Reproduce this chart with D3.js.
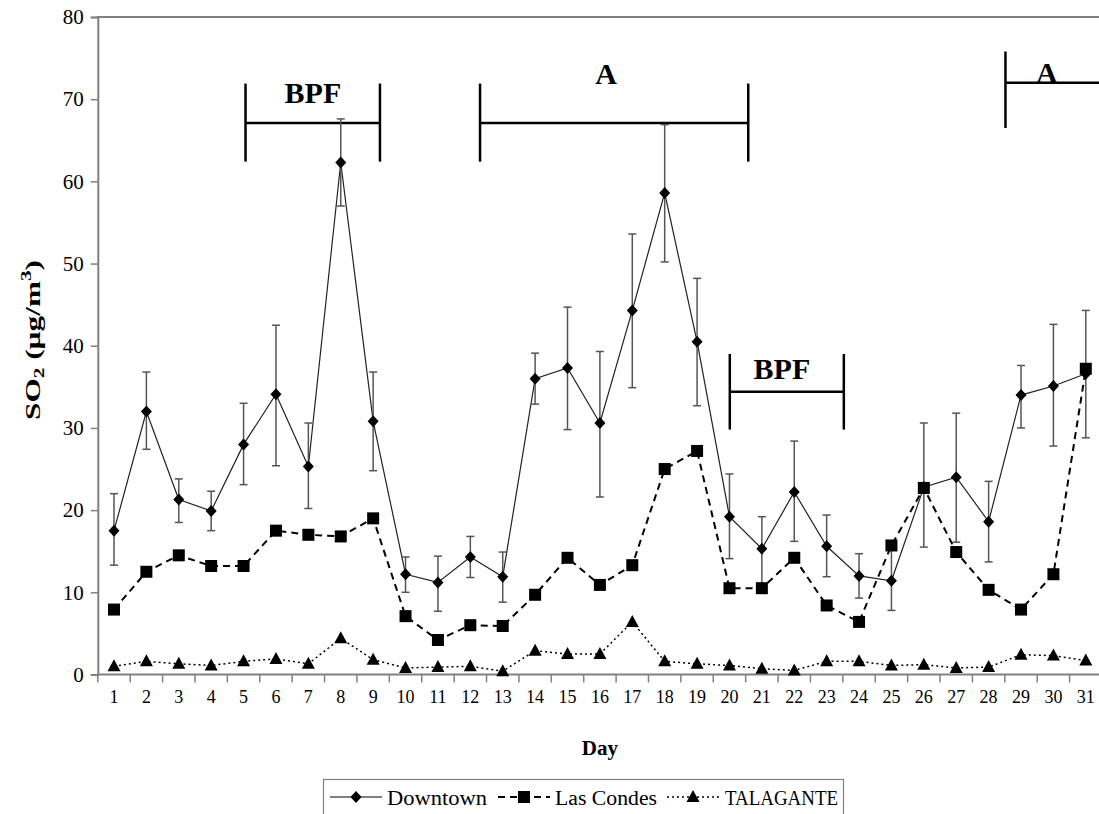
<!DOCTYPE html>
<html>
<head>
<meta charset="utf-8">
<script src="https://cdn.jsdelivr.net/npm/d3@7/dist/d3.min.js"></script>
<style>
body{margin:0;background:#fff}
svg{display:block}
svg text{font-family:"Liberation Serif","Times New Roman",serif}
</style>
</head>
<body>
<svg id="chart" width="1099" height="814"></svg>
<script>
// categories
var days = [1,2,3,4,5,6,7,8,9,10,11,12,13,14,15,16,17,18,19,20,21,22,23,24,25,26,27,28,29,30,31];
var yTicks = [0,10,20,30,40,50,60,70,80];

// series values (ug/m3)
var downtown   = [17.5,32.0,21.3,19.9,28.0,34.1,25.3,62.3,30.8,12.2,11.2,14.3,11.9,36.0,37.3,30.6,44.3,58.6,40.5,19.2,15.3,22.2,15.6,12.0,11.4,22.8,24.0,18.6,34.0,35.1,36.6];
var downtownHi = [22.0,36.8,23.8,22.3,33.0,42.5,30.6,67.6,36.8,14.3,14.4,16.8,14.9,39.1,44.7,39.3,53.6,66.9,48.2,24.4,19.2,28.4,19.4,14.7,15.9,30.6,31.8,23.5,37.6,42.6,44.3];
var downtownLo = [13.3,27.4,18.5,17.5,23.1,25.4,20.2,57.0,24.8,10.0,7.7,11.8,8.8,32.9,29.8,21.6,34.9,50.2,32.7,14.1,10.5,16.2,11.9,9.3,7.8,15.5,16.1,13.7,30.0,27.8,28.8];
var lasCondes  = [7.9,12.5,14.5,13.2,13.2,17.5,17.0,16.8,19.0,7.1,4.2,6.0,5.9,9.7,14.2,10.9,13.3,25.0,27.2,10.5,10.5,14.2,8.4,6.4,15.7,22.7,14.9,10.3,7.9,12.2,37.2];
var talagante  = [1.0,1.6,1.3,1.1,1.6,1.9,1.3,4.4,1.8,0.8,0.9,1.0,0.4,2.9,2.5,2.5,6.4,1.6,1.3,1.1,0.7,0.5,1.6,1.6,1.1,1.2,0.8,0.9,2.4,2.3,1.7];

// period brackets (day units / y units)
var brackets = [
	{label:"BPF", from:5.06,  to:9.21,  y:67.1, top:71.9, bottom:62.4, textDay:7.14,  textY:69.5},
	{label:"A",   from:12.30, to:20.58, y:67.1, top:71.9, bottom:62.4, textDay:16.19, textY:71.9},
	{label:"BPF", from:20.01, to:23.53, y:34.4, top:39.0, bottom:29.8, textDay:21.62, textY:35.9},
	{label:"A",   from:28.52, to:31.6,  y:72.0, top:75.8, bottom:66.5, textDay:29.8,  textY:72.0}
];

var legendNames = ["Downtown","Las Condes","TALAGANTE"];

var svg = d3.select("#chart");
var plotL = 97.8, plotR = 1102, plotT = 17, plotB = 674.5;

var x = d3.scaleBand().domain(days).range([plotL, plotR]);
var y = d3.scaleLinear().domain([0,80]).range([plotB, plotT]);
// continuous day position for brackets
var xd = function(d){ return x(1) + x.bandwidth()/2 + (d-1)*x.step(); };
var cx = function(d){ return x(d) + x.bandwidth()/2; };

// markers
function diamond(g, px, py){
	g.append("path").attr("d","M"+px+","+(py-6)+"L"+(px+5.5)+","+py+"L"+px+","+(py+6)+"L"+(px-5.5)+","+py+"Z").attr("fill","#000");
}
function square(g, px, py){
	g.append("rect").attr("x",px-6).attr("y",py-6).attr("width",12).attr("height",12).attr("fill","#000");
}
function triangle(g, px, py){
	g.append("path").attr("d","M"+px+","+(py-7)+"L"+(px+6.5)+","+(py+5)+"L"+(px-6.5)+","+(py+5)+"Z").attr("fill","#000");
}

// top border
svg.append("line").attr("x1",plotL-1).attr("x2",1099).attr("y1",y(80)).attr("y2",y(80)).attr("stroke","#000").attr("stroke-width",1.2);

// y axis
var yAxis = svg.append("g").attr("transform","translate("+plotL+",0)")
	.call(d3.axisLeft(y).tickValues(yTicks).tickSize(7).tickPadding(7));
yAxis.attr("font-family",null);
yAxis.select(".domain").attr("stroke","#808080").attr("stroke-width",2);
yAxis.selectAll(".tick line").attr("stroke","#808080").attr("stroke-width",1.5);
yAxis.selectAll("text").attr("font-size","21px").attr("fill","#000");

// x axis - ticks between categories
var xAxis = svg.append("g").attr("transform","translate(0,"+plotB+")")
	.call(d3.axisBottom(x).tickSize(0).tickPadding(16));
xAxis.attr("font-family",null);
xAxis.select(".domain").attr("stroke","#808080").attr("stroke-width",2).attr("d","M"+plotL+",0H1099");
xAxis.selectAll("text").attr("font-size","18px").attr("fill","#000");
xAxis.selectAll(".sep").data(days).enter().append("line")
	.attr("x1",function(d){return x(d);}).attr("x2",function(d){return x(d);})
	.attr("y1",0).attr("y2",8).attr("stroke","#808080").attr("stroke-width",1.5);

// axis titles
svg.append("text").attr("x",(plotL+plotR)/2).attr("y",755).attr("text-anchor","middle")
	.attr("font-size","21px").attr("font-weight","bold").text("Day");
var yt = svg.append("text").attr("transform","translate(40,340) rotate(-90)").attr("text-anchor","middle")
	.attr("font-size","22px").attr("font-weight","bold")
	.attr("textLength",160).attr("lengthAdjust","spacingAndGlyphs");
yt.append("tspan").text("SO");
yt.append("tspan").attr("font-size","15px").attr("dy",4).text("2");
yt.append("tspan").attr("dy",-4).text(" (\u00b5g/m");
yt.append("tspan").attr("font-size","15px").attr("dy",-9).text("3");
yt.append("tspan").attr("dy",9).text(")");

// brackets
var br = svg.append("g").attr("stroke","#000").attr("stroke-width",2.5);
brackets.forEach(function(b){
	br.append("line").attr("x1",xd(b.from)).attr("x2",Math.min(xd(b.to),1099)).attr("y1",y(b.y)).attr("y2",y(b.y));
	br.append("line").attr("x1",xd(b.from)).attr("x2",xd(b.from)).attr("y1",y(b.top)).attr("y2",y(b.bottom));
	if(xd(b.to) < 1099){
		br.append("line").attr("x1",xd(b.to)).attr("x2",xd(b.to)).attr("y1",y(b.top)).attr("y2",y(b.bottom));
	}
	svg.append("text").attr("x",xd(b.textDay)).attr("y",y(b.textY)).attr("text-anchor","middle")
		.attr("font-size","30px").attr("font-weight","bold").text(b.label);
});

var line = function(vals){
	return d3.line().x(function(d,i){return cx(days[i]);}).y(function(d){return y(d);})(vals);
};

// Talagante
svg.append("path").attr("d",line(talagante)).attr("fill","none").attr("stroke","#000")
	.attr("stroke-width",1.5).attr("stroke-dasharray","2,3");
// Las Condes
svg.append("path").attr("d",line(lasCondes)).attr("fill","none").attr("stroke","#000")
	.attr("stroke-width",2).attr("stroke-dasharray","7,5");
// Downtown
svg.append("path").attr("d",line(downtown)).attr("fill","none").attr("stroke","#222").attr("stroke-width",1.2);

// error bars
var eb = svg.append("g").attr("stroke","#555").attr("stroke-width",1.5);
days.forEach(function(d,i){
	var px = cx(d);
	eb.append("line").attr("x1",px).attr("x2",px).attr("y1",y(downtownHi[i])).attr("y2",y(downtownLo[i]));
	eb.append("line").attr("x1",px-4).attr("x2",px+4).attr("y1",y(downtownHi[i])).attr("y2",y(downtownHi[i]));
	eb.append("line").attr("x1",px-4).attr("x2",px+4).attr("y1",y(downtownLo[i])).attr("y2",y(downtownLo[i]));
});

var mk = svg.append("g");
days.forEach(function(d,i){
	triangle(mk, cx(d), y(talagante[i]));
	square(mk, cx(d), y(lasCondes[i]));
	diamond(mk, cx(d), y(downtown[i]));
});

// legend
var lg = svg.append("g");
lg.append("rect").attr("x",323.5).attr("y",779.5).attr("width",520).attr("height",40)
	.attr("fill","#fff").attr("stroke","#808080").attr("stroke-width",1.2);
var items = [
	{name:legendNames[0], x1:330, x2:382, dash:null, w:1.2, mark:diamond, tx:387, len:100},
	{name:legendNames[1], x1:498, x2:550, dash:"7,5", w:2, mark:square, tx:555, len:102},
	{name:legendNames[2], x1:667, x2:719, dash:"2,3", w:1.5, mark:triangle, tx:725, len:113}
];
items.forEach(function(it){
	var l = lg.append("line").attr("x1",it.x1).attr("x2",it.x2).attr("y1",797).attr("y2",797)
		.attr("stroke","#000").attr("stroke-width",it.w);
	if(it.dash){ l.attr("stroke-dasharray",it.dash); }
	it.mark(lg, (it.x1+it.x2)/2, 797);
	lg.append("text").attr("x",it.tx).attr("y",805).attr("font-size","20px")
		.attr("textLength",it.len).attr("lengthAdjust","spacingAndGlyphs").text(it.name);
});
</script>
</body>
</html>
